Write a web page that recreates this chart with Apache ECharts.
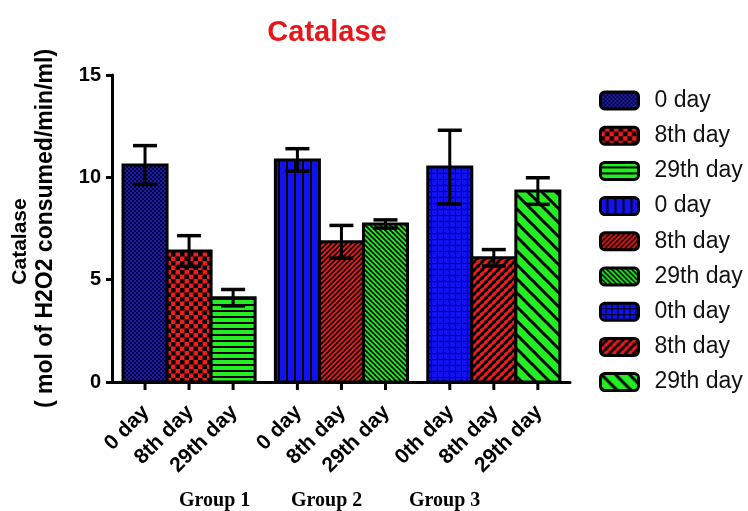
<!DOCTYPE html>
<html>
<head>
<meta charset="utf-8">
<script src="https://cdn.jsdelivr.net/npm/echarts@6/dist/echarts.min.js"></script>
<style>html,body{margin:0;padding:0;background:#fff;}#c{width:748px;height:511px;}</style>
</head>
<body>
<div id="c"></div>
<script>
// ---- data ----
const barLabels = ['0 day', '8th day', '29th day', '0 day', '8th day', '29th day', '0th day', '8th day', '29th day'];
const legendLabels = ['0 day', '8th day', '29th day', '0 day', '8th day', '29th day', '0th day', '8th day', '29th day'];
const groupLabels = ['Group 1', 'Group 2', 'Group 3'];
const means = [10.6, 6.4, 4.12, 10.85, 6.85, 7.72, 10.5, 6.07, 9.33];
const errs = [0.95, 0.75, 0.4, 0.55, 0.8, 0.2, 1.8, 0.4, 0.65];
const yTicks = [0, 5, 10, 15];

// ---- pattern fills (style) ----
function tile(w, h, draw) {
  const c = document.createElement('canvas');
  c.width = w; c.height = h;
  const g = c.getContext('2d');
  draw(g, w, h);
  return { image: c, repeat: 'repeat' };
}
const RED = '#ee1c1c', GREEN = '#22ee22', BLUE = '#1212f0', NAVY = '#1c1ca8';
function diag(g, p, dir, lw) {
  g.strokeStyle = '#000'; g.lineWidth = lw; g.lineCap = 'square';
  for (let o = -p; o <= p; o += p) {
    g.beginPath();
    if (dir > 0) { g.moveTo(o - 1, p + 1); g.lineTo(o + p + 1, -1); }
    else { g.moveTo(o - 1, -1); g.lineTo(o + p + 1, p + 1); }
    g.stroke();
  }
}
const patterns = [
  tile(4, 4, (g) => { g.fillStyle = NAVY; g.fillRect(0, 0, 4, 4); g.fillStyle = '#05053a'; g.fillRect(0, 0, 2, 2); g.fillRect(2, 2, 2, 2); }),
  tile(9, 9, (g) => { g.fillStyle = RED; g.fillRect(0, 0, 9, 9); g.fillStyle = '#000'; g.fillRect(0, 0, 4.5, 4.5); g.fillRect(4.5, 4.5, 4.5, 4.5); }),
  tile(6, 6, (g) => { g.fillStyle = GREEN; g.fillRect(0, 0, 6, 6); g.fillStyle = '#000'; g.fillRect(0, 4, 6, 2); }),
  tile(8, 8, (g) => { g.fillStyle = BLUE; g.fillRect(0, 0, 8, 8); g.fillStyle = '#000'; g.fillRect(6, 0, 2, 8); }),
  tile(5, 5, (g) => { g.fillStyle = RED; g.fillRect(0, 0, 5, 5); diag(g, 5, 1, 1.6); }),
  tile(5, 5, (g) => { g.fillStyle = GREEN; g.fillRect(0, 0, 5, 5); diag(g, 5, -1, 1.6); }),
  tile(6, 6, (g) => { g.fillStyle = BLUE; g.fillRect(0, 0, 6, 6); g.fillStyle = '#000'; g.fillRect(5, 0, 1.5, 6); g.fillRect(0, 5, 6, 1.5); }),
  tile(8, 8, (g) => { g.fillStyle = '#000'; g.fillRect(0, 0, 8, 8); g.fillStyle = RED;
    for (const [x, y] of [[2, 2], [6, 6], [6, -2], [-2, 6], [10, 2], [2, 10]]) { g.save(); g.translate(x, y); g.rotate(-Math.PI / 4); g.beginPath(); g.ellipse(0, 0, 3.2, 1.6, 0, 0, Math.PI * 2); g.fill(); g.restore(); } }),
  tile(14, 14, (g) => { g.fillStyle = GREEN; g.fillRect(0, 0, 14, 14); diag(g, 14, -1, 3); })
];

// layout helper: x position (in axis units) of bar i
function barPos(i) { return 0.75 + (i % 3) + Math.floor(i / 3) * 3.46; }

function renderBar(params, api) {
  const i = params.seriesIndex;
  const x = api.value(0), m = api.value(1), e = api.value(2);
  const unit = api.size([1, 0])[0];
  const p0 = api.coord([x, 0]);
  const pt = api.coord([x, m]);
  const ph = api.coord([x, m + e]);
  const pl = api.coord([x, m - e]);
  const w = unit;
  const cap = 12;
  const children = [
    { type: 'rect', shape: { x: p0[0] - w / 2, y: pt[1], width: w, height: p0[1] - pt[1] },
      style: { fill: patterns[i], stroke: '#000', lineWidth: 3 } },
    { type: 'line', shape: { x1: p0[0], y1: ph[1], x2: p0[0], y2: pl[1] }, style: { stroke: '#000', lineWidth: 3 } },
    { type: 'line', shape: { x1: p0[0] - cap, y1: ph[1], x2: p0[0] + cap, y2: ph[1] }, style: { stroke: '#000', lineWidth: 3.5 } },
    { type: 'line', shape: { x1: p0[0] - cap, y1: pl[1], x2: p0[0] + cap, y2: pl[1] }, style: { stroke: '#000', lineWidth: 3.5 } },
    { type: 'line', shape: { x1: p0[0], y1: p0[1], x2: p0[0], y2: p0[1] + 8 }, style: { stroke: '#000', lineWidth: 3 } },
    { type: 'text', x: p0[0] + 1, y: p0[1] + 27, rotation: Math.PI / 4,
      style: { text: barLabels[i], align: 'right', verticalAlign: 'middle', fill: '#000',
        font: 'bold 21px Arial, "Liberation Sans", sans-serif' } }
  ];
  return { type: 'group', children };
}

const series = means.map((m, i) => ({
  name: 'bar' + i,
  type: 'custom',
  renderItem: renderBar,
  itemStyle: { color: patterns[i], borderColor: '#000', borderWidth: 3 },
  encode: { x: 0, y: 1 },
  data: [[barPos(i), m, errs[i]]],
  z: 3
}));

const FONT = 'Arial, "Liberation Sans", sans-serif';
const chart = echarts.init(document.getElementById('c'), null, { renderer: 'canvas' });
chart.setOption({
  animation: false,
  backgroundColor: '#fff',
  title: {
    text: 'Catalase', left: 322, top: 13, textAlign: 'center',
    textStyle: { color: '#e8161b', fontSize: 29, fontWeight: 'bold', fontFamily: FONT }
  },
  grid: { left: 112, right: 178, top: 75, bottom: 129 },
  xAxis: {
    type: 'value', min: 0, max: 10.4,
    axisLine: { show: true, onZero: false, lineStyle: { color: '#000', width: 3 } },
    axisTick: { show: false }, axisLabel: { show: false }, splitLine: { show: false }
  },
  yAxis: {
    type: 'value', min: yTicks[0], max: yTicks[yTicks.length - 1], interval: 5,
    name: '{a|Catalase}\n{b|( mol of H2O2 consumed/min/ml)}',
    nameLocation: 'middle', nameGap: 54, nameRotate: 90,
    nameTextStyle: {
      fontFamily: FONT, color: '#000',
      rich: {
        a: { fontSize: 21, fontWeight: 'bold', lineHeight: 25, fontFamily: FONT, color: '#000', padding: [0, 26, 0, 0] },
        b: { fontSize: 23, fontWeight: 'bold', lineHeight: 25, fontFamily: FONT, color: '#000' }
      }
    },
    axisLine: { show: true, lineStyle: { color: '#000', width: 3 } },
    axisTick: { show: true, length: 6, lineStyle: { color: '#000', width: 3 } },
    axisLabel: { fontSize: 20, fontWeight: 'bold', color: '#000', margin: 11, fontFamily: FONT },
    splitLine: { show: false }
  },
  legend: {
    orient: 'vertical', left: 599, top: 89, padding: 0,
    itemWidth: 38, itemHeight: 17, itemGap: 12.2, icon: 'roundRect', selectedMode: false,
    itemStyle: { borderColor: '#000', borderWidth: 3 },
    formatter: (name) => legendLabels[+name.slice(3)],
    textStyle: { fontSize: 23, lineHeight: 17, color: '#111', padding: [0, 0, 0, 11], fontFamily: FONT },
    data: series.map(s => s.name)
  },
  graphic: groupLabels.map((g, k) => ({
    type: 'text', left: [179, 291, 409][k], top: 491,
    style: { text: g, font: 'bold 20px "Times New Roman", "Liberation Serif", serif', fill: '#000' }
  })),
  series
});
</script>
</body>
</html>
